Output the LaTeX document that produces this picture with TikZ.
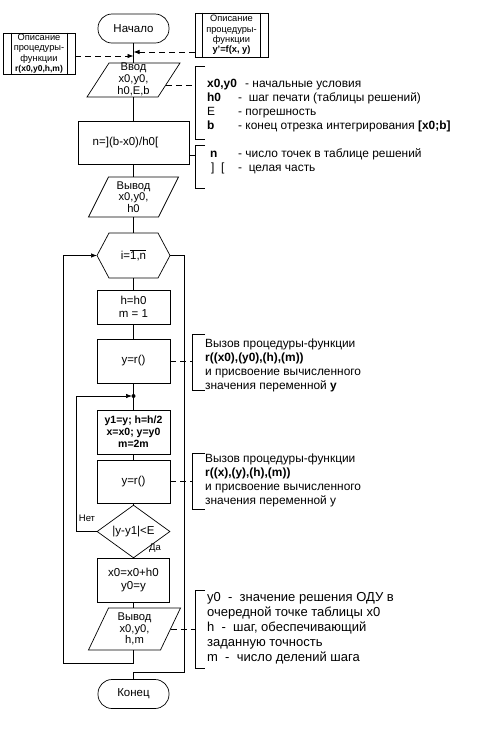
\documentclass[tikz,border=0pt]{standalone}
\usepackage{fontspec}
\setmainfont{Liberation Sans}
\usetikzlibrary{shapes.geometric,arrows.meta,calc}
\newcommand\fmain{\fontsize{11.5}{13}\selectfont}
\newcommand\fio{\fontsize{11.2}{11.8}\selectfont}
\newcommand\fann{\fontsize{11.9}{14}\selectfont}
\newcommand\fannb{\fontsize{13}{15}\selectfont}
\newcommand\fsmall{\fontsize{9.3}{10.3}\selectfont}
\newcommand\fsmallb{\fontsize{8.5}{10.3}\selectfont\bfseries}
\newcommand\fbold{\fontsize{10.5}{12}\selectfont\bfseries}
\newcommand\flbl{\fontsize{9.5}{11}\selectfont}
\newcommand\pgram[4]{\draw[ln] ($(#1)+(-#2-#4,#3)$) -- ($(#1)+(-#2+#4,-#3)$) -- ($(#1)+(#2+#4,-#3)$) -- ($(#1)+(#2-#4,#3)$) -- cycle;}
\tikzset{
  ln/.style={line width=0.7pt},
  dashln/.style={line width=0.7pt, dash pattern=on 6pt off 4pt},
  arr/.style={-{Latex[length=6pt,width=4.5pt]}},
  base/.style={draw, line width=0.7pt, inner sep=0pt, align=center, font=\fmain},
  proc/.style={base, rectangle, minimum width=73pt, minimum height=44pt},
  term/.style={base, rounded corners=14pt, minimum width=71pt, minimum height=29pt},
  iobox/.style={inner sep=0pt, outer sep=0pt},
  iotext/.style={inner sep=0pt, align=center, font=\fio},
  dec/.style={base, diamond, minimum width=73pt, minimum height=43pt},
  descbox/.style={base, font=\fsmall},
  ann/.style={font=\fann, anchor=base west, inner sep=0pt},
  annb/.style={font=\fannb, anchor=base west, inner sep=0pt},
  lbl/.style={font=\flbl, inner sep=0pt}
}
\begin{document}
\begin{tikzpicture}[x=1pt,y=-1pt]
\useasboundingbox (0,0) rectangle (482,729);

% ---- nodes ----
\node[term] (start) at (133.5,28.5) {Начало};
\node[descbox, minimum width=73pt, minimum height=44pt] (fr) at (231.5,35)
  {Описание\\процедуры-\\функции\\\textbf{y'=f(x, y)}};
\draw[ln] ([xshift=8pt]fr.north west) -- ([xshift=8pt]fr.south west);
\draw[ln] ([xshift=-8pt]fr.north east) -- ([xshift=-8pt]fr.south east);
\node[descbox, minimum width=72pt, minimum height=41pt] (fl) at (39,53.5)
  {Описание\\процедуры-\\функции\\{\fsmallb r(x0,y0,h,m)}};
\draw[ln] ([xshift=9pt]fl.north west) -- ([xshift=9pt]fl.south west);
\draw[ln] ([xshift=-8pt]fl.north east) -- ([xshift=-8pt]fl.south east);

\node[iobox, minimum width=71pt, minimum height=34pt] (in) at (133.5,80) {};
\pgram{in}{35.5}{17}{11}
\node[iotext] (intext) at ([yshift=0.5pt]in) {Ввод\\x0,y0,\\h0,E,b};

\node[proc, minimum width=111pt, minimum height=43pt] (calc) at (133.5,142.5) {n=](b-x0)/h0[\hspace{16pt}};

\node[iobox, minimum width=70pt, minimum height=40pt] (out1) at (133.5,197) {};
\pgram{out1}{35}{20}{10}
\node[iotext] (out1text) at (out1) {Вывод\\x0,y0,\\h0};

\node[iobox, minimum width=49pt, minimum height=45pt] (loop) at (133.5,255.5) {};
\coordinate (loopW) at ([xshift=-12pt]loop.west);
\coordinate (loopE) at ([xshift=12pt]loop.east);
\draw[ln] (loopW) -- (loop.north west) -- (loop.north east) -- (loopE) -- (loop.south east) -- (loop.south west) -- cycle;
\node[iotext, font=\fmain] (looptext) at (loop) {i=$\overline{\mbox{1,n}}$};

\node[proc, minimum height=34pt] (init) at (133.5,307) {h=h0\\m = 1};
\node[proc, minimum height=44pt] (call1) at (133.5,361) {y=r()};
\coordinate (jn) at (133.5,396);
\node[proc, minimum height=44pt, font=\fbold] (half) at (133.5,432) {y1=y; h=h/2\\x=x0; y=y0\\m=2m};
\node[proc, minimum height=43pt] (call2) at (133.5,481.5) {y=r()};
\node[dec] (test) at (133.5,531.5) {|y-y1|<E};
\node[proc, minimum width=72pt, minimum height=44pt] (advance) at (133.5,580) {x0=x0+h0\\y0=y};
\node[iobox, minimum width=72pt, minimum height=42pt] (out2) at (134.5,629) {};
\pgram{out2}{36}{21}{10}
\node[iotext] (out2text) at (out2) {Вывод\\x0,y0,\\h,m};
\node[term] (fin) at (133.5,694) {Конец};

% ---- helper coordinates ----
\coordinate (jr) at (133.5,52);
\coordinate (jl) at (133.5,56);
\coordinate (lb) at (133.5,663);
\coordinate (ll) at (63,0);
\coordinate (rr) at (184,0);
\coordinate (ex) at (133.5,672);
\coordinate (nl) at (76,0);

% ---- main connectors ----
\draw[ln] (start) -- (in);
\draw[dashln,arr] (fr.west |- jr) -- (jr);
\draw[dashln,arr] (fl.east |- jl) -- (jl);
\draw[ln] (in) -- (calc);
\draw[ln] (calc) -- (out1);
\draw[ln] (out1) -- (loop);
\draw[ln] (loop) -- (init);
\draw[ln] (init) -- (call1);
\draw[ln] (call1) -- (half);
\draw[ln] (half) -- (call2);
\draw[ln] (call2) -- (test);
\draw[ln] (test) -- (advance);
\draw[ln] (advance) -- (advance |- out2.north);
\draw[ln,arr] (advance |- out2.south) -- (lb) -- (lb -| ll) |- (loopW);
\draw[ln] (loopE) -- (loopE -| rr) |- (ex) -- (fin);
\draw[ln,arr,shorten >=1.5pt] (test.west) -- (test.west -| nl) |- (jn);
\fill (jn) circle (2pt);
\node[lbl] (no) at (87,518) {Нет};
\node[lbl] (yes) at (155,548) {Да};

% ---- annotation 1 ----
\coordinate (b1) at (195,85);
\draw[ln] (205,66) -- (195,66) -- (195,139) -- (205,139);
\draw[dashln] ($(in.east)+(-3.2,5)$) -- (b1);
\node[ann] at (207,87) {\textbf{x0,y0}};
\node[ann] at (245,87) {- начальные условия};
\node[ann] at (207,101) {\textbf{h0}};
\node[ann] at (238,101) {-~~шаг печати (таблицы решений)};
\node[ann] at (207,115) {E};
\node[ann] at (238,115) {- погрешность};
\node[ann] at (207,129) {\textbf{b}};
\node[ann] at (238,129) {- конец отрезка интегрирования \textbf{[x0;b]}};

% ---- annotation 2 ----
\coordinate (b2) at (195,155);
\draw[ln] (205,145) -- (195,145) -- (195,188) -- (205,188);
\draw[ln] (calc.east |- b2) -- (b2);
\node[ann] at (210,157) {\textbf{n}};
\node[ann] at (238,157) {- число точек в таблице решений};
\node[ann] at (211,171) {]~~[};
\node[ann] at (238,171) {-~~целая часть};

% ---- annotation 3 ----
\coordinate (b3) at (192,361);
\draw[ln] (205,334) -- (192,334) -- (192,390) -- (205,390);
\draw[dashln] (call1.east) -- (b3);
\node[ann] at (205,347) {Вызов процедуры-функции};
\node[ann] at (205,361) {\textbf{r((x0),(y0),(h),(m))}};
\node[ann] at (205,375) {и присвоение вычисленного};
\node[ann] at (205,389) {значения переменной \textbf{y}};

% ---- annotation 4 ----
\coordinate (b4) at (192,481.5);
\draw[ln] (205,453) -- (192,453) -- (192,509) -- (205,509);
\draw[dashln] (call2.east) -- (b4);
\node[ann] at (205,462) {Вызов процедуры-функции};
\node[ann] at (205,476) {\textbf{r((x),(y),(h),(m))}};
\node[ann] at (205,490) {и присвоение вычисленного};
\node[ann] at (205,504) {значения переменной у};

% ---- annotation 5 ----
\coordinate (b5) at (195,629);
\draw[ln] (205,590) -- (195,590) -- (195,668) -- (205,668);
\draw[dashln] (out2.east) -- (b5);
\node[annb] at (207,601) {y0~~-~~значение решения ОДУ в};
\node[annb] at (207,616) {очередной точке таблицы x0};
\node[annb] at (207,631) {h~~-~~шаг, обеспечивающий};
\node[annb] at (207,646) {заданную точность};
\node[annb] at (207,661) {m~~-~~число делений шага};
\end{tikzpicture}
\end{document}
